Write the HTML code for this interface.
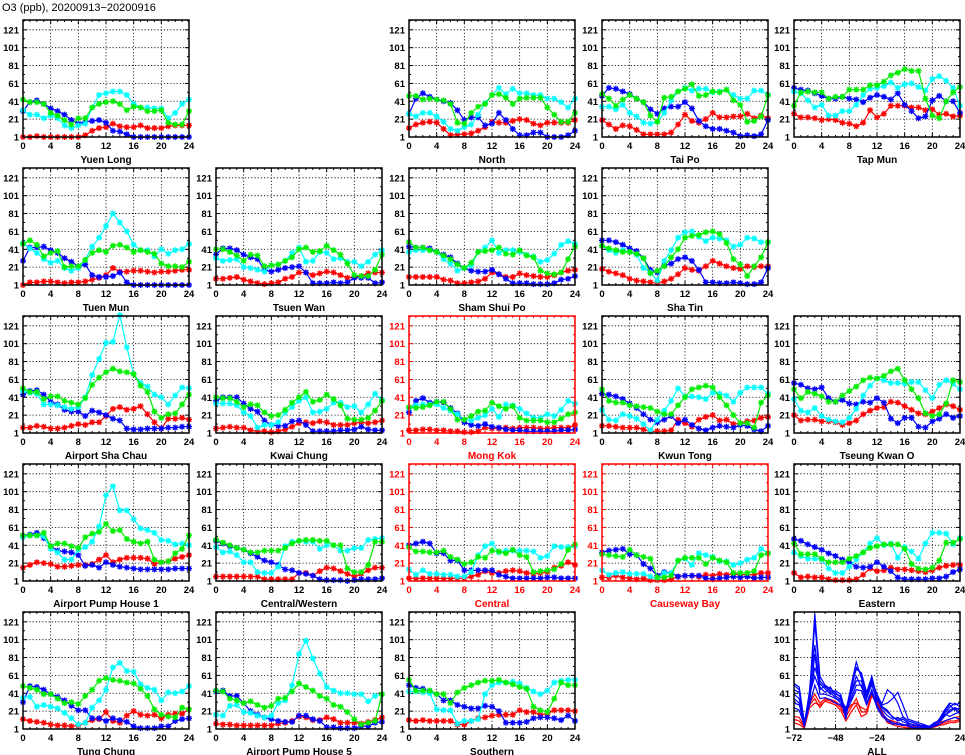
<!DOCTYPE html>
<html><head><meta charset="utf-8"><style>
html,body{margin:0;padding:0;background:#fff;}
svg{display:block;font-family:"Liberation Sans",sans-serif;}
</style></head><body>
<svg id="chart" width="965" height="755" viewBox="0 0 965 755" xmlns="http://www.w3.org/2000/svg">
<rect width="965" height="755" fill="#fff"/>
<text x="2" y="11" font-size="11" fill="#000">O3 (ppb), 20200913−20200916</text>
</svg>
<script>
const hours = [0,1,2,3,4,5,6,7,8,9,10,11,12,13,14,15,16,17,18,19,20,21,22,23,24];
const yTicks = [1,21,41,61,81,101,121];
const xTicks = [0,4,8,12,16,20,24];
const allXTicks = [-72,-48,-24,0,24];
const allHours = [-72,-69,-66,-63,-60,-57,-54,-51,-48,-45,-42,-39,-36,-33,-30,-27,-24,-21,-18,-15,-12,-9,-6,-3,0,3,6,9,12,15,18,21,24];

const yuenLong = {b:[30,40,42,38,33,30,26,20,16,18,19,20,17,8,7,4,1,1,1,1,1,1,1,1,1],
 c:[31,26,26,22,25,22,14,11,14,16,34,48,50,52,52,48,38,34,34,33,33,22,28,38,43],
 g:[43,40,40,38,28,25,20,15,22,22,34,38,40,41,38,31,35,34,30,30,31,17,15,15,30],
 r:[1,1,2,1,1,1,1,1,1,3,8,11,12,16,13,12,12,14,11,11,11,13,14,14,14]};
const north = {b:[27,44,50,46,43,41,39,31,20,23,23,14,16,28,20,10,3,3,6,6,1,1,1,3,8],
 c:[27,24,28,28,24,18,10,8,12,15,26,39,48,56,49,55,50,50,48,48,44,44,40,34,44],
 g:[47,47,43,44,43,42,38,17,16,28,35,38,48,49,45,38,44,45,45,45,34,26,18,18,28],
 r:[11,15,17,18,17,10,3,4,4,5,8,12,18,17,17,19,21,20,16,14,17,17,17,17,20]};
const taiPo = {b:[47,56,55,52,49,44,40,32,27,33,35,35,40,33,19,13,10,10,8,6,2,3,2,4,20],
 c:[35,35,32,37,28,24,17,16,18,28,42,52,56,53,55,55,51,52,54,48,44,44,53,53,48],
 g:[49,44,36,43,48,44,40,25,18,45,46,52,55,60,47,48,52,51,54,42,37,18,19,24,48],
 r:[20,15,10,14,13,9,4,4,4,4,6,15,26,19,17,21,28,23,23,24,24,27,22,25,22]};
const tapMun = {b:[56,54,53,50,47,44,44,46,44,43,40,45,48,46,43,50,37,30,22,24,42,47,41,41,28],
 c:[52,50,42,34,37,25,25,30,30,37,48,55,56,58,62,56,60,61,57,53,66,69,64,56,36],
 g:[36,51,52,51,51,44,46,46,54,54,54,59,59,63,70,73,77,75,75,44,25,22,41,51,57],
 r:[27,23,23,22,20,21,20,17,16,13,17,31,23,27,36,36,36,34,34,31,32,26,27,24,25]};
const tuenMun = {b:[28,43,43,44,40,37,31,27,22,24,12,10,10,11,15,4,1,1,1,1,1,1,1,1,1],
 c:[48,42,37,30,26,28,20,17,20,29,44,54,67,81,71,61,46,40,40,33,41,36,40,41,47],
 g:[47,51,46,33,37,39,21,22,22,29,37,40,38,45,46,43,38,40,38,36,25,22,22,21,27],
 r:[1,4,4,5,5,4,3,4,4,5,7,9,12,20,16,16,17,17,16,15,16,16,17,18,18]};
const tsuenWan = {b:[35,42,42,40,35,32,30,18,16,18,20,21,22,15,3,3,3,4,3,4,9,9,9,3,4],
 c:[31,28,29,30,21,20,18,16,23,24,28,37,43,27,28,38,37,30,31,27,27,22,27,35,40],
 g:[41,41,38,34,28,35,34,22,23,24,28,32,41,43,38,39,45,40,35,25,12,11,11,18,35],
 r:[8,8,9,10,7,5,3,2,3,4,8,10,15,15,12,14,16,15,12,9,10,11,14,15,15]};
const shamShuiPo = {b:[44,43,43,42,38,35,32,25,20,17,16,16,18,13,8,3,3,3,2,2,2,3,7,8,11],
 c:[38,40,40,40,38,30,25,17,20,23,38,43,51,37,40,40,38,35,33,27,29,36,46,50,47],
 g:[49,43,43,40,38,34,30,24,20,26,38,39,40,43,36,35,40,34,32,17,14,13,15,30,44],
 r:[10,10,10,10,10,7,6,3,3,4,5,8,15,13,10,10,14,12,11,10,10,12,15,17,18]};
const shaTin = {b:[51,51,49,46,42,39,31,18,15,23,25,30,32,28,18,4,4,3,3,4,3,2,2,4,20],
 c:[45,40,37,40,38,35,20,15,6,28,40,54,60,61,55,50,54,53,51,44,46,54,53,49,49],
 g:[45,42,40,38,38,36,31,14,17,22,32,41,54,56,57,60,61,58,48,30,24,11,22,32,49],
 r:[19,16,14,12,8,6,5,4,3,5,8,13,20,18,17,22,28,25,22,20,19,22,21,22,22]};
const airportShaChau = {b:[44,48,49,44,36,33,27,25,25,20,26,24,21,17,15,6,5,5,6,6,6,7,7,8,8],
 c:[48,46,45,33,33,32,30,28,30,41,66,84,102,103,133,97,67,57,53,44,41,33,43,52,51],
 g:[51,47,47,39,42,42,37,35,33,40,55,63,69,73,70,69,67,54,47,25,18,22,23,33,44],
 r:[7,7,9,8,6,6,7,9,11,10,13,13,20,28,30,27,28,31,22,13,6,17,17,18,16]};
const kwaiChung = {b:[37,41,41,41,34,28,25,15,10,9,9,14,15,10,3,3,3,3,4,4,5,8,5,4,4],
 c:[34,34,34,32,24,20,7,10,10,13,24,30,37,41,24,25,28,35,35,30,31,24,33,45,38],
 g:[41,40,40,36,30,33,32,24,20,21,27,35,41,47,36,38,44,39,32,17,16,16,18,26,37],
 r:[6,7,8,7,7,4,3,3,2,3,5,8,12,13,12,14,13,10,10,10,12,13,12,13,15]};
const mongKok = {b:[24,37,40,35,36,35,29,23,13,10,9,11,8,7,5,4,4,3,3,3,3,3,4,4,5],
 c:[29,32,33,33,33,29,26,22,16,15,18,21,28,19,33,32,28,23,18,18,22,20,27,37,34],
 g:[30,29,30,32,36,36,28,16,16,20,25,26,35,31,28,31,18,15,15,15,13,13,17,22,24],
 r:[4,4,5,5,4,4,3,3,2,2,3,7,6,6,7,6,7,7,7,6,6,7,7,7,10]};
const kwunTong = {b:[45,44,42,39,34,29,22,16,13,16,20,12,16,10,6,4,7,9,8,7,10,9,5,3,9],
 c:[27,16,15,22,20,17,11,4,16,26,37,51,42,42,41,39,46,45,43,36,46,52,52,52,45],
 g:[50,37,35,35,32,31,30,29,25,22,22,32,41,50,52,54,52,41,32,21,12,12,7,35,43],
 r:[9,9,8,7,7,7,5,3,3,3,4,16,12,8,16,19,21,15,16,11,12,14,15,18,19]};
const tseungKwanO = {b:[57,55,51,50,52,40,36,38,34,33,36,35,40,35,17,12,18,18,8,7,14,17,22,18,20],
 c:[39,26,24,29,20,16,14,13,18,28,43,54,62,60,57,57,56,58,58,49,40,55,60,56,50],
 g:[50,40,47,45,42,36,36,43,48,53,60,63,62,65,70,73,60,50,40,23,20,22,34,60,58],
 r:[21,15,16,16,14,14,13,10,12,15,22,26,29,30,36,35,31,27,23,22,25,29,33,31,27]};
const airportPH1 = {b:[52,53,55,49,40,35,34,33,30,18,19,16,22,19,17,16,15,14,14,14,14,14,15,15,15],
 c:[50,52,52,51,37,33,25,25,36,39,45,62,97,107,80,80,70,60,58,55,47,46,42,43,41],
 g:[52,52,52,55,40,43,43,40,38,50,54,56,65,57,58,48,45,43,45,25,22,23,32,37,52],
 r:[16,19,22,21,20,17,17,18,19,19,20,25,30,22,25,27,27,27,26,20,22,23,26,28,30]};
const centralWestern = {b:[46,43,40,38,36,32,28,24,22,19,14,13,10,9,7,3,2,2,2,1,2,3,3,3,4],
 c:[39,33,34,30,22,22,11,10,10,17,40,45,46,45,45,37,41,41,35,35,38,38,47,48,49],
 g:[47,44,41,38,36,33,33,35,35,35,38,43,46,47,47,46,46,41,41,15,11,11,19,45,45],
 r:[6,6,6,6,6,6,6,3,3,3,3,3,10,10,7,12,16,15,12,9,6,9,13,16,16]};
const central = {b:[41,43,45,43,32,32,24,24,13,13,13,13,13,8,6,4,4,4,4,4,5,5,4,4,4],
 c:[14,8,13,9,9,8,8,6,6,11,30,40,43,33,35,35,35,35,34,27,29,40,39,39,40],
 g:[39,34,34,33,33,35,28,25,20,22,28,27,35,34,32,36,30,28,11,12,13,14,20,36,42],
 r:[4,4,4,4,4,4,4,4,4,6,8,12,10,10,12,13,12,10,9,10,11,16,18,22,19]};
const causewayBay = {b:[33,35,36,37,31,30,20,15,7,11,10,6,7,7,7,4,3,4,5,6,5,6,4,5,5],
 c:[13,8,10,11,9,9,9,6,3,10,10,24,26,19,32,30,28,23,23,19,21,25,27,37,32],
 g:[31,30,29,28,36,30,28,26,5,5,7,24,27,27,27,20,27,24,22,10,10,10,12,30,32],
 r:[5,5,7,5,4,3,4,2,2,2,3,6,7,7,6,8,7,9,8,9,8,8,8,10,10]};
const eastern = {b:[48,46,42,39,36,32,29,25,22,17,16,17,22,17,12,5,3,3,3,3,4,4,6,11,14],
 c:[33,29,26,26,25,15,10,10,17,25,33,43,49,41,43,27,39,34,26,43,55,55,54,42,49],
 g:[43,31,31,31,26,22,22,22,26,29,33,38,40,42,42,42,37,20,15,14,16,24,44,44,48],
 r:[10,5,6,5,5,3,2,2,2,3,8,15,12,13,16,14,14,13,12,11,13,16,18,19,19]};
const tungChung = {b:[31,49,48,45,40,37,33,27,22,22,13,13,10,13,11,9,4,2,2,2,4,4,10,12,13],
 c:[36,37,26,28,26,24,19,13,6,8,25,33,45,70,75,66,65,51,47,45,33,42,41,43,49],
 g:[49,47,45,40,40,35,30,31,29,38,45,55,58,56,55,53,52,46,38,23,17,15,14,25,23],
 r:[12,10,9,8,6,5,5,4,5,8,11,12,20,10,8,16,21,17,16,17,13,17,18,18,23]};
const airportPH5 = {b:[43,44,38,38,30,21,17,14,12,10,9,9,16,16,12,10,3,3,2,2,2,4,4,8,9],
 c:[17,16,27,28,20,19,16,14,16,30,33,50,85,100,80,63,48,44,41,41,40,40,32,38,40],
 g:[44,43,35,33,30,32,28,25,27,35,36,43,52,48,44,38,35,28,26,20,12,6,8,10,40],
 r:[7,6,6,5,5,5,5,5,5,7,8,10,15,14,11,11,14,12,8,8,8,7,9,11,14]};
const southern = {b:[50,47,46,43,40,33,33,28,26,24,24,27,26,21,8,8,8,9,13,14,14,13,11,16,10],
 c:[43,43,42,41,23,22,22,7,10,10,12,40,50,53,53,54,52,47,43,40,44,53,55,56,56],
 g:[56,44,44,44,40,40,30,42,47,50,53,55,55,56,53,51,48,46,26,22,20,35,53,50,50],
 r:[11,10,11,10,10,10,10,6,6,10,13,14,16,17,17,17,22,20,20,17,18,22,22,22,21]};

const allBlue1 = [40,35,5,35,120,55,48,44,40,38,15,45,70,62,40,58,38,25,20,15,10,12,8,5,5,3,2,4,8,15,22,25,22];
const allBlue2 = [50,45,8,40,60,45,50,42,36,30,20,40,55,55,35,52,32,30,45,40,30,15,10,8,6,4,3,6,12,20,28,22,25];
const allBlue3 = [30,28,10,30,85,40,40,38,35,33,25,35,50,50,30,45,28,18,12,8,6,5,6,3,3,2,3,8,10,18,15,18,20];
const allBlue4 = [35,30,3,45,95,48,42,48,38,34,12,50,76,58,38,50,35,22,16,12,14,9,7,6,4,5,4,5,12,22,30,28,30];
const allBlue5 = [45,42,6,38,70,52,46,40,44,40,18,42,60,48,36,55,40,28,30,35,42,28,12,10,8,6,4,7,10,16,20,24,18];
const allBlue6 = [25,22,5,28,50,35,36,34,30,28,20,32,45,44,28,42,25,15,10,6,8,6,4,2,2,1,2,4,6,10,12,14,12];
const allBlue7 = [52,48,8,42,130,60,50,46,42,36,22,48,68,64,42,60,36,26,22,14,12,14,10,8,6,4,3,6,10,18,25,30,26];
const allRed1 = [12,10,3,30,40,30,35,32,30,25,15,25,35,20,20,42,32,20,10,8,6,5,4,3,3,2,3,5,6,8,10,10,12];
const allRed2 = [8,6,2,25,30,28,32,30,28,22,10,20,28,15,18,38,30,18,8,6,4,3,2,2,2,1,2,3,5,6,8,8,10];
const allRed3 = [15,14,4,28,35,25,33,34,32,27,20,28,30,25,22,40,28,15,12,10,8,6,5,4,3,3,4,6,8,10,12,14,15];

const NS = "http://www.w3.org/2000/svg";
const svg = document.getElementById('chart');
const colLeft = [23,216,409,602,794];
const PW = 166, PH = 117, YMIN = 1, YMAX = 132;
const COLORS = {b:'#0000ff', c:'#00ffff', g:'#00ee00', r:'#ff0000'};
const SNAME = {b:'blue', c:'cyan', g:'green', r:'red'};

function mk(tag, attrs, parent){
  const e = document.createElementNS(NS, tag);
  for (const k in attrs) e.setAttribute(k, attrs[k]);
  (parent||svg).appendChild(e);
  return e;
}

function panel(col,row,title,data,isRed,isAll){
  const L = colLeft[col], T = 20 + 148*row, B = T+PH, R = L+PW;
  const fc = isRed ? '#ff0000' : '#000';
  const xmin = isAll ? -72 : 0, xmax = 24;
  const sx = v => L + (v-xmin)/(xmax-xmin)*PW;
  const sy = v => B - (v-YMIN)/(YMAX-YMIN)*PH;
  const g = mk('g', {});
  
  
  const xt = isAll ? allXTicks : xTicks;
  // grid
  xt.forEach(v => { if (v>xmin && v<xmax) { const ln = mk('line',{x1:sx(v),x2:sx(v),y1:T,y2:B,stroke:'#000','stroke-width':0.8,'stroke-dasharray':'1.2,2'},g);
      } });
  yTicks.forEach(v => { if (v>YMIN) { const ln = mk('line',{x1:L,x2:R,y1:sy(v),y2:sy(v),stroke:'#000','stroke-width':0.8,'stroke-dasharray':'1.2,2'},g);
      } });
  // minor ticks
  const mstep = isAll ? 6 : 1;
  for (let v=xmin; v<=xmax; v+=mstep){ const len = xt.includes(v)?4:2;
    mk('line',{x1:sx(v),x2:sx(v),y1:B,y2:B-len,stroke:fc,'stroke-width':1},g);
    mk('line',{x1:sx(v),x2:sx(v),y1:T,y2:T+len,stroke:fc,'stroke-width':1},g); }
  for (let v=1; v<=131; v+=10){ const len = yTicks.includes(v)?4:2;
    mk('line',{x1:L,x2:L+len,y1:sy(v),y2:sy(v),stroke:fc,'stroke-width':1},g);
    mk('line',{x1:R,x2:R-len,y1:sy(v),y2:sy(v),stroke:fc,'stroke-width':1},g); }
  // series
  const drawSeries = (xs, vals, key, markers) => {
    const pts = vals.map((v,i)=>sx(xs[i]).toFixed(1)+','+sy(v).toFixed(1)).join(' ');
    const pl = mk('polyline',{points:pts,fill:'none',stroke:COLORS[key],'stroke-width':1.2},g);
    
    
    if (markers) vals.forEach((v,i)=>{
      const x = sx(xs[i]), y = sy(v), r = 3;
      const m = mk('path',{d:`M${x-r},${y}H${x+r}M${x},${y-r}V${y+r}M${x-2.2},${y-2.2}L${x+2.2},${y+2.2}M${x-2.2},${y+2.2}L${x+2.2},${y-2.2}`,stroke:COLORS[key],'stroke-width':1.3,fill:'none'},g);
      
      
    });
  };
  if (isAll){
    [allRed1,allRed2,allRed3].forEach(s=>drawSeries(allHours,s,'r',false));
    [allBlue1,allBlue2,allBlue3,allBlue4,allBlue5,allBlue6,allBlue7].forEach(s=>drawSeries(allHours,s,'b',false));
  } else {
    ['r','b','c','g'].forEach(k=>drawSeries(hours,data[k],k,true));
  }
  // frame
  const fr = mk('rect',{x:L,y:T,width:PW,height:PH,fill:'none',stroke:fc,'stroke-width':1.5},g);
  
  
  // labels
  yTicks.forEach(v=>{ const t = mk('text',{x:L-4,y:sy(v)+3.5,'text-anchor':'end','font-size':9.5,'font-weight':'bold',fill:fc},g);
    t.textContent = v;
      });
  xt.forEach(v=>{ const t = mk('text',{x:sx(v),y:B+12,'text-anchor':'middle','font-size':9.5,'font-weight':'bold',fill:fc},g);
    t.textContent = v<0 ? '−'+(-v) : v;
      });
  const tt = mk('text',{x:L+PW/2,y:B+26,'text-anchor':'middle','font-size':10,'font-weight':'bold',fill:fc},g);
  tt.textContent = title;
  
  
}

panel(0,0,'Yuen Long',yuenLong);
panel(2,0,'North',north);
panel(3,0,'Tai Po',taiPo);
panel(4,0,'Tap Mun',tapMun);
panel(0,1,'Tuen Mun',tuenMun);
panel(1,1,'Tsuen Wan',tsuenWan);
panel(2,1,'Sham Shui Po',shamShuiPo);
panel(3,1,'Sha Tin',shaTin);
panel(0,2,'Airport Sha Chau',airportShaChau);
panel(1,2,'Kwai Chung',kwaiChung);
panel(2,2,'Mong Kok',mongKok,true);
panel(3,2,'Kwun Tong',kwunTong);
panel(4,2,'Tseung Kwan O',tseungKwanO);
panel(0,3,'Airport Pump House 1',airportPH1);
panel(1,3,'Central/Western',centralWestern);
panel(2,3,'Central',central,true);
panel(3,3,'Causeway Bay',causewayBay,true);
panel(4,3,'Eastern',eastern);
panel(0,4,'Tung Chung',tungChung);
panel(1,4,'Airport Pump House 5',airportPH5);
panel(2,4,'Southern',southern);
panel(4,4,'ALL',null,false,true);
</script>
</body></html>
